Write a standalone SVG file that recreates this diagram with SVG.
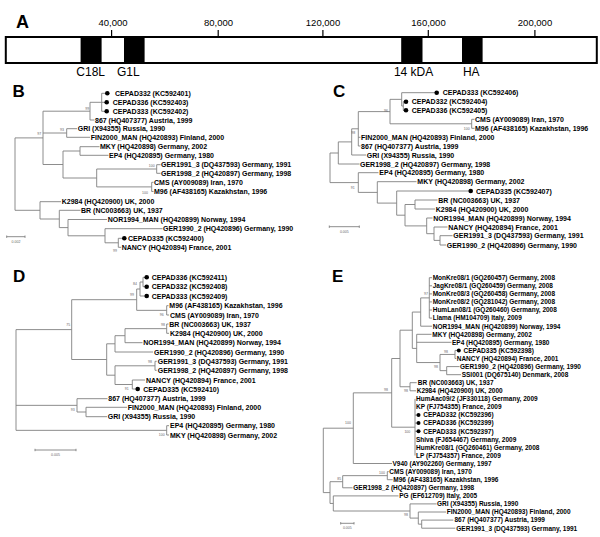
<svg xmlns="http://www.w3.org/2000/svg" width="600" height="537" viewBox="0 0 600 537">
<style>
.pl{font-family:"Liberation Sans",Arial,sans-serif;font-weight:bold;font-size:17px;fill:#000}
.tk{font-family:"Liberation Sans",Arial,sans-serif;font-size:9.5px;fill:#000;text-anchor:middle}
.gn{font-family:"Liberation Sans",Arial,sans-serif;font-size:12px;fill:#000;text-anchor:middle}
.lf{font-family:"Liberation Sans",Arial,sans-serif;font-weight:bold;font-size:7px;fill:#000}
.le{font-family:"Liberation Sans",Arial,sans-serif;font-weight:bold;font-size:6.5px;fill:#000}
.bs{font-family:"Liberation Sans",Arial,sans-serif;font-size:3.5px;fill:#666;text-anchor:middle}
.br{fill:none;stroke:#808080;stroke-width:0.9}
.dot{fill:#000}
</style>
<rect width="600" height="537" fill="#fff"/>

<g id="panelA">
<text class="pl" x="16" y="28" style="font-size:18px">A</text>
<rect x="5.8" y="37" width="591" height="26" fill="#fff" stroke="#000" stroke-width="2"/>
<rect x="80.6" y="37" width="21" height="26" fill="#000"/>
<rect x="124" y="37" width="20.6" height="26" fill="#000"/>
<rect x="401.2" y="37" width="21.3" height="26" fill="#000"/>
<rect x="462" y="37" width="20.6" height="26" fill="#000"/>
<path d="M111.6 30V37M218.2 30V37M322.9 30V37M428.3 30V37M534.9 30V37" stroke="#000" stroke-width="1.2"/>
<text class="tk" x="113" y="26">40,000</text>
<text class="tk" x="218.5" y="26">80,000</text>
<text class="tk" x="323" y="26">120,000</text>
<text class="tk" x="428.5" y="26">160,000</text>
<text class="tk" x="535" y="26">200,000</text>
<text class="gn" x="90.7" y="76">C18L</text>
<text class="gn" x="128.3" y="76">G1L</text>
<text class="gn" x="413.6" y="76">14 kDA</text>
<text class="gn" x="471.3" y="76">HA</text>
</g>

<g id="connectors">
<!-- B -->
<path class="br" d="M15 137.9V210.3M15 137.9H43M15 210.3H40
M43 111.2V164.5M43 111.2H90M43 133H66.7M43 164.5H63
M90 102.3V120M90 102.3H101.7M90 120H94.5
M101.7 93.3V111.3M101.7 93.3H107.3M101.7 102.3H106.7M101.7 111.3H106.7
M66.7 128.7V137.3M66.7 128.7H77M66.7 137.3H90
M63 151V178M63 151H80M63 178H96.7
M80 146.7V155.3M80 146.7H99.5M80 155.3H108.5
M96.7 169V186.9M96.7 169H156.7M96.7 186.9H151.7
M156.7 164.7V173.3M156.7 164.7H160.5M156.7 173.3H160.5
M151.7 182.3V191.5M151.7 182.3H153.5M151.7 191.5H153.5
M40 201.7V219M40 201.7H61M40 219H59.3
M59.3 210.3V227.6M59.3 210.3H80.5M59.3 227.6H68
M68 219.5V235.8M68 219.5H107M68 235.8H105
M105 228.7V242.8M105 228.7H162.5M105 242.8H118.3
M118.3 238.3V247.3M118.3 238.3H124.3M118.3 247.3H121.2
M6.7 236.7H25M6.7 235.5V237.9M25 235.5V237.9"/>
<!-- C -->
<path class="br" d="M330 153V182.6M330 153H338.3M330 182.6H358.3
M338.3 141.9V164M338.3 141.9H351.7M338.3 164H359.5
M351.7 128.8V155M351.7 128.8H358.3M351.7 155H366
M358.3 111.6V146M358.3 111.6H390M358.3 137.3H360.5M358.3 146H360.5
M390 99.35V123.8M390 99.35H401.7M390 123.8H471.7
M401.7 92.7V106M401.7 92.7H436.7M401.7 106H403.3
M403.3 101.7V110.3M403.3 101.7H406M403.3 110.3H406
M471.7 119.3V128.3M471.7 119.3H474.5M471.7 128.3H474.5
M358.3 172.7V192.4M358.3 172.7H378.5M358.3 192.4H377.3
M377.3 181.7V203.1M377.3 181.7H416.5M377.3 203.1H396.7
M396.7 191V215.2M396.7 191H470.7M396.7 215.2H405
M405 204.5V225.9M405 204.5H415M405 225.9H426.7
M415 200V209M415 200H437.5M415 209H435
M426.7 218V233.7M426.7 218H432.5M426.7 233.7H434
M434 227V240.4M434 227H447.5M434 240.4H440
M440 235.7V245M440 235.7H452.5M440 245H446
M329.3 226.7H359.3M329.3 225.5V227.9M359.3 225.5V227.9"/>
<!-- D -->
<path class="br" d="M16 329.6V430.35M16 329.6H71.7M16 405.35H77M16 430.35H166.7
M71.7 299.7V359.5M71.7 299.7H136.7M71.7 359.5H106.7
M136.7 289V310.35M136.7 289H140M136.7 310.35H166.7
M140 282V296M140 282H143M140 296H146.7
M143 277.3V286.7M143 277.3H146.7M143 286.7H146.7
M166.7 305.7V315M166.7 305.7H168.5M166.7 315H169
M106.7 343.8V375.2M106.7 343.8H115M106.7 375.2H115
M115 335.7V352M115 335.7H125M115 352H153
M125 328.65V342.7M125 328.65H166.7M125 342.7H142.5
M166.7 324V333.3M166.7 324H168.5M166.7 333.3H169
M115 365.8V384.5M115 365.8H155M115 384.5H132.3
M155 361.3V370.3M155 361.3H156.7M155 370.3H156.7
M132.3 380V389M132.3 380H145M132.3 389H137.7
M77 398.7V412M77 398.7H107.5M77 412H86
M86 407.3V416.7M86 407.3H127M86 416.7H107
M166.7 425.7V435M166.7 425.7H169M166.7 435H169
M35 450H76M35 448.8V451.2M76 448.8V451.2"/>
<!-- E -->
<path class="br" d="M323.3 428.2V492.6M323.3 428.2H353.3M323.3 492.6H330
M330 481.7V503.45M330 481.7H342.7M330 503.45H333.3
M342.7 475.65V487.8M342.7 475.65H387.3M342.7 487.8H352.5
M387.3 471.6V479.7M387.3 471.6H388.7M387.3 479.7H392.7
M333.3 495.9V511M333.3 495.9H398.5M333.3 511H410
M410 503.9V518.1M410 503.9H436.5M410 518.1H418.3
M418.3 512V524.15M418.3 512H446M418.3 524.15H421.7
M421.7 520.1V528.2M421.7 520.1H453.3M421.7 528.2H455.3
M353.3 392.85V463.5M353.3 392.85H391.7M353.3 463.5H392
M391.7 358.5V427.2M391.7 358.5H400M391.7 427.2H415
M415 398.9V455.5M415 415.1H418.3M415 423.1H418.3M415 431.2H418.3
M400 330.2V386.75M400 330.2H412.3M400 386.75H410
M410 382.7V390.8M410 382.7H416.7M410 390.8H416
M412.3 312.05V348.4M412.3 312.05H420.7M412.3 348.4H416.7
M420.7 297.9V326.2M420.7 297.9H429.3M420.7 326.2H432
M429.3 277.7V318.1M429.3 277.7H432M429.3 285.8H432M429.3 293.9H432M429.3 301.9H432M429.3 310H432M429.3 318.1H432
M416.7 334.3V362.55M416.7 334.3H431.5M416.7 342.3H451.5M416.7 362.55H440
M440 354.45V370.65M440 354.45H455M440 370.65H446.7
M455 350.4V358.5M455 350.4H458.3M455 358.5H456.3
M446.7 366.6V374.7M446.7 366.6H459.5M446.7 374.7H461
M340.7 523.3H354M340.7 522.1V524.5M354 522.1V524.5"/>
</g>

<g id="panelB">
<text class="pl" x="12.5" y="96.7">B</text>
<g id="B-leaves">
<circle class="dot" cx="107.3" cy="93.3" r="2.3"/><text class="lf" x="115" y="95.8">CEPAD332 (KC592401)</text>
<circle class="dot" cx="106.7" cy="102.3" r="2.3"/><text class="lf" x="112.7" y="104.8">CEPAD336 (KC592403)</text>
<circle class="dot" cx="106.7" cy="111.3" r="2.3"/><text class="lf" x="112.7" y="113.8">CEPAD333 (KC592402)</text>
<text class="lf" x="95" y="122.5">867 (HQ407377) Austria, 1999</text>
<text class="lf" x="77.7" y="131.2">GRI (X94355) Russia, 1990</text>
<text class="lf" x="90.7" y="139.8">FIN2000_MAN (HQ420893) Finland, 2000</text>
<text class="lf" x="100" y="149.2">MKY (HQ420898) Germany, 2002</text>
<text class="lf" x="109" y="157.8">EP4 (HQ420895) Germany, 1980</text>
<text class="lf" x="161" y="167.2">GER1991_3 (DQ437593) Germany, 1991</text>
<text class="lf" x="161" y="175.8">GER1998_2 (HQ420897) Germany, 1998</text>
<text class="lf" x="154" y="184.8">CMS (AY009089) Iran, 1970</text>
<text class="lf" x="154" y="194">M96 (AF438165) Kazakhstan, 1996</text>
<text class="lf" x="61.7" y="204.2">K2984 (HQ420900) UK, 2000</text>
<text class="lf" x="81" y="212.8">BR (NC003663) UK, 1937</text>
<text class="lf" x="107.7" y="222">NOR1994_MAN (HQ420899) Norway, 1994</text>
<text class="lf" x="163" y="231.2">GER1990_2 (HQ420896) Germany, 1990</text>
<circle class="dot" cx="124.3" cy="238.3" r="2.3"/><text class="lf" x="128" y="240.8">CEPAD335 (KC592400)</text>
<text class="lf" x="121.7" y="249.8">NANCY (HQ420894) France, 2001</text>
</g>
<g id="B-support">
<text class="bs" x="87.3" y="109.5">99</text>
<text class="bs" x="62" y="131.2">93</text>
<text class="bs" x="39.3" y="134.5">97</text>
<text class="bs" x="151.7" y="167.2">100</text>
<text class="bs" x="145" y="193.5">100</text>
<text class="bs" x="115" y="252.2">99</text>
<text class="bs" x="16" y="242.5">0.002</text>
</g>
</g>

<g id="panelC">
<text class="pl" x="333" y="96.7">C</text>
<g id="C-leaves">
<circle class="dot" cx="436.7" cy="92.7" r="2.3"/><text class="lf" x="442.7" y="95.2">CEPAD333 (KC592406)</text>
<circle class="dot" cx="406" cy="101.7" r="2.3"/><text class="lf" x="411.7" y="104.2">CEPAD332 (KC592404)</text>
<circle class="dot" cx="406" cy="110.3" r="2.3"/><text class="lf" x="411.7" y="112.8">CEPAD336 (KC592405)</text>
<text class="lf" x="475" y="121.8">CMS (AY009089) Iran, 1970</text>
<text class="lf" x="475" y="130.8">M96 (AF438165) Kazakhstan, 1996</text>
<text class="lf" x="361" y="139.8">FIN2000_MAN (HQ420893) Finland, 2000</text>
<text class="lf" x="361" y="148.5">867 (HQ407377) Austria, 1999</text>
<text class="lf" x="366.7" y="157.5">GRI (X94355) Russia, 1990</text>
<text class="lf" x="360" y="166.5">GER1998_2 (HQ420897) Germany, 1998</text>
<text class="lf" x="379.3" y="175.2">EP4 (HQ420895) Germany, 1980</text>
<text class="lf" x="417.3" y="184.2">MKY (HQ420898) Germany, 2002</text>
<circle class="dot" cx="470.7" cy="191" r="2.3"/><text class="lf" x="476" y="193.5">CEPAD335 (KC592407)</text>
<text class="lf" x="438.3" y="202.5">BR (NC003663) UK, 1937</text>
<text class="lf" x="435.7" y="211.5">K2984 (HQ420900) UK, 2000</text>
<text class="lf" x="433.3" y="220.5">NOR1994_MAN (HQ420899) Norway, 1994</text>
<text class="lf" x="448.3" y="229.5">NANCY (HQ420894) France, 2001</text>
<text class="lf" x="453.3" y="238.2">GER1991_3 (DQ437593) Germany, 1991</text>
<text class="lf" x="446.7" y="247.5">GER1990_2 (HQ420896) Germany, 1990</text>
</g>
<g id="C-support">
<text class="bs" x="386" y="111.9">96</text>
<text class="bs" x="466.7" y="129.5">100</text>
<text class="bs" x="353.3" y="133.9">98</text>
<text class="bs" x="352.7" y="188.5">91</text>
<text class="bs" x="344.3" y="232.5">0.005</text>
</g>
</g>

<g id="panelD">
<text class="pl" x="13" y="281.7">D</text>
<g id="D-leaves">
<circle class="dot" cx="146.7" cy="277.3" r="2.3"/><text class="lf" x="151.7" y="279.8">CEPAD336 (KC592411)</text>
<circle class="dot" cx="146.7" cy="286.7" r="2.3"/><text class="lf" x="151.7" y="289.2">CEPAD332 (KC592408)</text>
<circle class="dot" cx="146.7" cy="296" r="2.3"/><text class="lf" x="151.7" y="298.5">CEPAD333 (KC592409)</text>
<text class="lf" x="169.3" y="308.2">M96 (AF438165) Kazakhstan, 1996</text>
<text class="lf" x="170" y="317.5">CMS (AY009089) Iran, 1970</text>
<text class="lf" x="169.3" y="326.5">BR (NC003663) UK, 1937</text>
<text class="lf" x="170" y="335.8">K2984 (HQ420900) UK, 2000</text>
<text class="lf" x="143.3" y="345.2">NOR1994_MAN (HQ420899) Norway, 1994</text>
<text class="lf" x="154" y="354.5">GER1990_2 (HQ420896) Germany, 1990</text>
<text class="lf" x="157.7" y="363.8">GER1991_3 (DQ437593) Germany, 1991</text>
<text class="lf" x="157.7" y="372.8">GER1998_2 (HQ420897) Germany, 1998</text>
<text class="lf" x="146" y="382.5">NANCY (HQ420894) France, 2001</text>
<circle class="dot" cx="137.7" cy="389" r="2.3"/><text class="lf" x="143.3" y="391.5">CEPAD335 (KC592410)</text>
<text class="lf" x="108.3" y="401.2">867 (HQ407377) Austria, 1999</text>
<text class="lf" x="127.7" y="409.8">FIN2000_MAN (HQ420893) Finland, 2000</text>
<text class="lf" x="107.7" y="419.2">GRI (X94355) Russia, 1990</text>
<text class="lf" x="170" y="428.2">EP4 (HQ420895) Germany, 1980</text>
<text class="lf" x="170" y="437.5">MKY (HQ420898) Germany, 2002</text>
</g>
<g id="D-support">
<text class="bs" x="135" y="285.2">84</text>
<text class="bs" x="132" y="296.2">99</text>
<text class="bs" x="161.7" y="316.2">96</text>
<text class="bs" x="163" y="325.5">98</text>
<text class="bs" x="68.3" y="326.2">75</text>
<text class="bs" x="150" y="362.9">98</text>
<text class="bs" x="126.7" y="389.5">91</text>
<text class="bs" x="72.7" y="410.5">93</text>
<text class="bs" x="161.7" y="436.2">100</text>
<text class="bs" x="55.5" y="455.5">0.005</text>
</g>
</g>

<g id="panelE">
<text class="pl" x="332" y="281.5">E</text>
<g id="E-leaves">
<text class="le" x="432.7" y="280">MonKre08/1 (GQ260457) Germany, 2008</text>
<text class="le" x="432.7" y="288.1">JagKre08/1 (GQ260459) Germany, 2008</text>
<text class="le" x="432.7" y="296.2">MonKre08/3 (GQ260458) Germany, 2008</text>
<text class="le" x="432.7" y="304.2">MonKre08/2 (GQ281042) Germany, 2008</text>
<text class="le" x="432.7" y="312.3">HumLan08/1 (GQ260460) Germany, 2008</text>
<text class="le" x="432.7" y="320.4">Llama (HM104709) Italy, 2009</text>
<text class="le" x="432.7" y="328.5">NOR1994_MAN (HQ420899) Norway, 1994</text>
<text class="le" x="432.3" y="336.6">MKY (HQ420898) Germany, 2002</text>
<text class="le" x="452" y="344.6">EP4 (HQ420895) Germany, 1980</text>
<circle class="dot" cx="458.8" cy="350.4" r="2"/><text class="le" x="463.5" y="352.7">CEPAD335 (KC592398)</text>
<text class="le" x="456.7" y="360.8">NANCY (HQ420894) France, 2001</text>
<text class="le" x="460" y="368.9">GER1990_2 (HQ420896) Germany, 1990</text>
<text class="le" x="461.7" y="377">SSI001 (DQ675140) Denmark, 2008</text>
<text class="le" x="417.7" y="385">BR (NC003663) UK, 1937</text>
<text class="le" x="416.7" y="393.1">K2984 (HQ420900) UK, 2000</text>
<text class="le" x="416" y="401.2">HumAac09/2 (JF330118) Germany, 2009</text>
<text class="le" x="416" y="409.3">KP (FJ754355) France, 2009</text>
<circle class="dot" cx="418.5" cy="415.1" r="2"/><text class="le" x="423.3" y="417.4">CEPAD332 (KC592396)</text>
<circle class="dot" cx="418.5" cy="423.1" r="2"/><text class="le" x="423.3" y="425.4">CEPAD336 (KC592399)</text>
<circle class="dot" cx="418.5" cy="431.2" r="2"/><text class="le" x="423.3" y="433.5">CEPAD333 (KC592397)</text>
<text class="le" x="416" y="441.6">Shiva (FJ654467) Germany, 2009</text>
<text class="le" x="416" y="449.7">HumKre08/1 (GQ260461) Germany, 2008</text>
<text class="le" x="416" y="457.8">LP (FJ754357) France, 2009</text>
<text class="le" x="392.5" y="465.8">V940 (AY902260) Germany, 1997</text>
<text class="le" x="389.3" y="473.9">CMS (AY009089) Iran, 1970</text>
<text class="le" x="393.3" y="482">M96 (AF438165) Kazakhstan, 1996</text>
<text class="le" x="353.3" y="490.1">GER1998_2 (HQ420897) Germany, 1998</text>
<text class="le" x="399.2" y="498.2">PG (EF612709) Italy, 2005</text>
<text class="le" x="437" y="506.2">GRI (X94355) Russia, 1990</text>
<text class="le" x="446.7" y="514.3">FIN2000_MAN (HQ420893) Finland, 2000</text>
<text class="le" x="454.5" y="522.4">867 (HQ407377) Austria, 1999</text>
<text class="le" x="456.3" y="530.5">GER1991_3 (DQ437593) Germany, 1991</text>
</g>
<g id="E-support">
<text class="bs" x="426" y="295.2">97</text>
<text class="bs" x="446" y="353.2">98</text>
<text class="bs" x="436" y="367.9">98</text>
<text class="bs" x="386" y="391.2">98</text>
<text class="bs" x="406" y="391.9">98</text>
<text class="bs" x="348" y="424.2">100</text>
<text class="bs" x="407.3" y="432.7">100</text>
<text class="bs" x="382" y="473.9">100</text>
<text class="bs" x="339.3" y="479.5">85</text>
<text class="bs" x="406" y="515.5">98</text>
<text class="bs" x="347.3" y="529">0.005</text>
</g>
</g>
</svg>
